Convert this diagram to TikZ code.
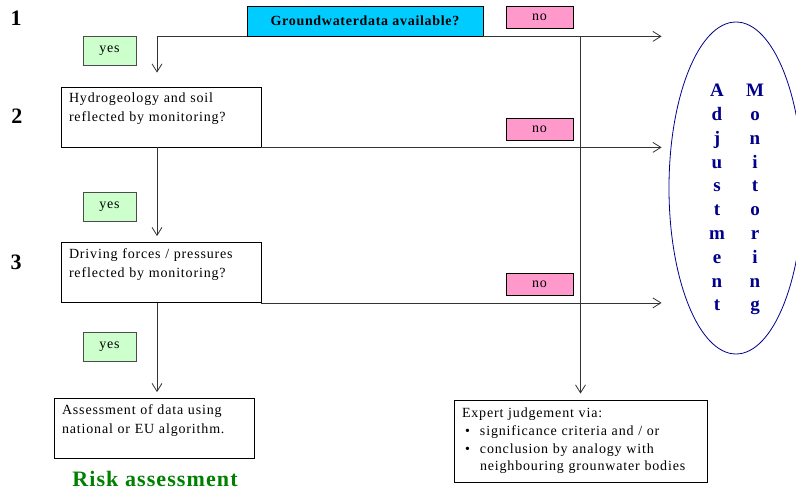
\documentclass[tikz,border=0pt]{standalone}
\usepackage{fontspec}
\setmainfont{Liberation Serif}[LetterSpace=6, BoldFeatures={LetterSpace=5}]
\usetikzlibrary{positioning, arrows.meta, shapes.geometric}
\definecolor{gwcyan}{RGB}{0,204,255}
\definecolor{nopink}{RGB}{255,153,204}
\definecolor{yesgreen}{RGB}{204,255,204}
\definecolor{adjblue}{RGB}{0,0,140}
\definecolor{riskgreen}{RGB}{0,128,0}

\begin{document}
\begin{tikzpicture}[
  x=1pt, y=-1pt,
  qbox/.style={draw, line width=0.8pt, minimum width=200pt, minimum height=60pt,
               text width=184pt, inner xsep=8pt, align=left,
               font=\fontsize{14}{19}\selectfont},
  gwbox/.style={draw, line width=0.8pt, fill=gwcyan, minimum width=236pt, minimum height=30pt,
                font=\bfseries\fontsize{14}{17}\selectfont},
  nobox/.style={draw, line width=0.8pt, fill=nopink, minimum width=67pt, minimum height=22pt,
                inner sep=0pt, font=\fontsize{14}{17}\selectfont},
  yesbox/.style={draw=black!70, line width=0.8pt, fill=yesgreen, minimum width=53pt, minimum height=29pt,
                 inner sep=0pt, font=\fontsize{14}{17}\selectfont},
  stepnum/.style={font=\bfseries\fontsize{22}{24}\selectfont, inner sep=0pt},
  vword/.style={font=\bfseries\fontsize{19}{23.8}\selectfont, text=adjblue, align=center, inner sep=0pt},
  flow/.style={draw=black!80, line width=0.8pt, -{Straight Barb[length=8pt, width=10pt]}}
]
  \useasboundingbox (0,0) rectangle (796,492);

  % step numbers
  \node[stepnum] (n1) at (16,18) {1};
  \node[stepnum] (n2) at (17,116) {2};
  \node[stepnum] (n3) at (16,262) {3};

  % questions
  \node[gwbox] (gw) at (365,21) {Groundwaterdata available?};
  \node[qbox] (q2) at (161,117) {Hydrogeology and soil\\reflected by monitoring?\\\mbox{}};
  \node[qbox] (q3) at (161,272.5) {Driving forces / pressures\\reflected by monitoring?\\\mbox{}};
  \node[qbox] (assess) at (154,428.5) {Assessment of data using\\national or EU algorithm.\\\mbox{}};
  \node[qbox, minimum width=253pt, minimum height=82pt, text width=237pt,
        font=\fontsize{14}{17.7}\selectfont] (expert) at (580.5,441)
    {Expert judgement via:\\
     \makebox[18pt][l]{\hspace{3pt}\textbullet}significance criteria and / or\\
     \makebox[18pt][l]{\hspace{3pt}\textbullet}conclusion by analogy with\\
     \hspace*{18pt}neighbouring grounwater bodies};

  \node[font=\bfseries\fontsize{22}{24}\selectfont, text=riskgreen, inner sep=0pt] (risk) at (155,479) {Risk assessment};

  % adjustment of monitoring
  \node[draw=adjblue, line width=0.8pt, ellipse, minimum width=134pt, minimum height=332pt,
        inner sep=0pt] (adjust) at (736,188) {};
  \node[vword, anchor=north] (adjtxt) at (717,84) {A\\d\\j\\u\\s\\t\\m\\e\\n\\t};
  \node[vword, anchor=north] (montxt) at (755,84) {M\\o\\n\\i\\t\\o\\r\\i\\n\\g};

  % answers
  \node[yesbox] (yes1) at (109.5,50.5) {yes};
  \node[yesbox] (yes2) at (109.5,206.5) {yes};
  \node[yesbox] (yes3) at (109.5,347) {yes};
  \node[nobox] (no1) at (539.5,17) {no};
  \node[nobox] (no2) at (539.5,129) {no};
  \node[nobox] (no3) at (539.5,284) {no};

  % connectors
  \coordinate (spine) at (157,0);
  \draw[flow, shorten >=14pt] (gw.south west) -| (q2.north -| spine);
  \draw[flow, shorten >=7pt] (gw.south east) -- (gw.south -| adjust.west);
  \draw[flow, shorten >=6pt] (gw.south -| expert.north) -- (expert.north);
  \draw[flow, shorten >=7pt] (q2.south east) -- (q2.south -| adjust.west);
  \draw[flow, shorten >=6pt] (q2.south -| spine) -- (q3.north -| spine);
  \draw[flow, shorten >=7pt] (q3.south east) -- (q3.south -| adjust.west);
  \draw[flow, shorten >=6pt] (q3.south -| spine) -- (assess.north -| spine);
\end{tikzpicture}
\end{document}
